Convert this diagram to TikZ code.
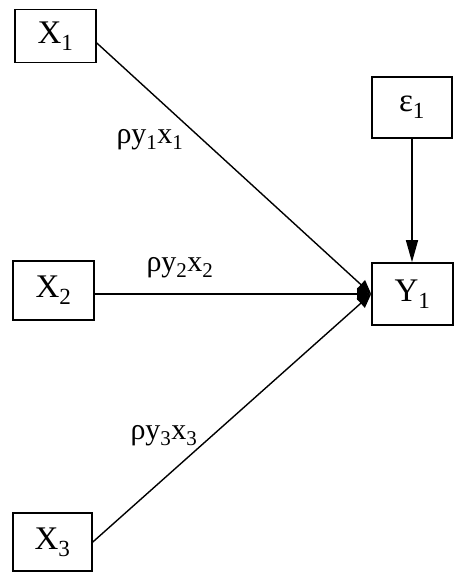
\documentclass[tikz,border=0pt]{standalone}
\usepackage{fontspec}
\setmainfont{Liberation Serif}
\usetikzlibrary{arrows.meta,calc}
\begin{document}
\begin{tikzpicture}[x=1pt,y=-1pt,
  box/.style={draw,line width=1.6pt,minimum width=81pt,minimum height=58pt,inner sep=0pt,font=\fontsize{33}{36}\selectfont},
  lab/.style={font=\fontsize{30}{33}\selectfont,inner sep=0pt},
  conn/.style={line width=1.4pt,-{Triangle[length=14pt,width=12pt]}},
  vconn/.style={line width=1.4pt,-{Triangle[length=22pt,width=12pt]}}]
\useasboundingbox (0,0) rectangle (456,573);
\node[box,minimum height=53pt] (X1) at (55.5,36) {X\textsubscript{1}};
\node[box,minimum height=59pt] (X2) at (53.5,290.5) {X\textsubscript{2}};
\node[box,minimum width=79pt] (X3) at (52.5,542) {X\textsubscript{3}};
\node[box,minimum width=80pt,minimum height=61pt] (E1) at (412,107.5) {ε\textsubscript{1}};
\node[box,minimum height=62pt] (Y1) at (412.5,294) {Y\textsubscript{1}};
\coordinate (x1o) at ($(X1.east)+(0,7)$);
\draw[conn] (x1o) -- (Y1.west);
\draw[conn] (X2.east |- Y1.west) -- (Y1.west);
\draw[conn] (X3.east) -- (Y1.west);
\draw[vconn] (E1.south) -- (E1.south |- Y1.north);
\node[lab] (L1) at (150,140) {ρy\textsubscript{1}x\textsubscript{1}};
\node[lab] (L2) at (180,268) {ρy\textsubscript{2}x\textsubscript{2}};
\node[lab] (L3) at (164,436) {ρy\textsubscript{3}x\textsubscript{3}};
\end{tikzpicture}
\end{document}
